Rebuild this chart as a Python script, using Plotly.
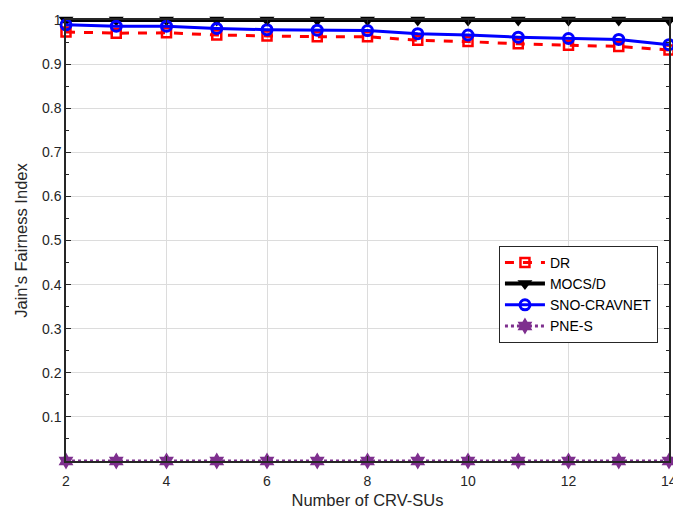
import plotly.graph_objects as go

x_vals = [2, 3, 4, 5, 6, 7, 8, 9, 10, 11, 12, 13, 14]
dr = [0.973, 0.970, 0.971, 0.966, 0.964, 0.962, 0.962, 0.954, 0.951, 0.946, 0.943, 0.940, 0.932]
mocs = [1.0] * 13
sno = [0.989, 0.986, 0.986, 0.981, 0.978, 0.977, 0.976, 0.969, 0.966, 0.961, 0.958, 0.956, 0.944]
pne = [0.0] * 13

y_ticks = [0.1, 0.2, 0.3, 0.4, 0.5, 0.6, 0.7, 0.8, 0.9, 1]
y_ticktext = ["0.1", "0.2", "0.3", "0.4", "0.5", "0.6", "0.7", "0.8", "0.9", "1"]
x_ticks = [2, 4, 6, 8, 10, 12]
x_last_tick = 14

FONT = "Liberation Sans, Arial"

fig = go.Figure()
fig.add_trace(go.Scatter(x=x_vals, y=dr, name="DR", mode="lines+markers",
                         line=dict(color="#FF0000", width=3, dash="dash"),
                         marker=dict(symbol="square-open", size=9, color="#FF0000", line=dict(width=2.5)),
                         cliponaxis=False))
fig.add_trace(go.Scatter(x=x_vals, y=mocs, name="MOCS/D", mode="lines+markers",
                         line=dict(color="#000000", width=4),
                         marker=dict(symbol="triangle-down", size=13, color="#000000"),
                         cliponaxis=False))
fig.add_trace(go.Scatter(x=x_vals, y=sno, name="SNO-CRAVNET", mode="lines+markers",
                         line=dict(color="#0000FF", width=3),
                         marker=dict(symbol="circle-open", size=10, color="#0000FF", line=dict(width=3)),
                         cliponaxis=False))
fig.add_trace(go.Scatter(x=x_vals, y=pne, name="PNE-S", mode="lines+markers",
                         line=dict(color="#7E2F8E", width=3, dash="dot"),
                         marker=dict(symbol="hexagram", size=13, color="#7E2F8E"),
                         cliponaxis=False))

axis_common = dict(showline=True, linecolor="#262626", linewidth=1.5, mirror="ticks",
                   ticks="inside", ticklen=5, tickcolor="#262626",
                   showgrid=True, gridcolor="#DCDCDC", gridwidth=1, zeroline=False,
                   tickfont=dict(family=FONT, size=14, color="#262626"))

fig.add_annotation(x=x_last_tick, y=0, xref="x", yref="paper", text=str(x_last_tick),
                   showarrow=False, xanchor="center", yanchor="top", yshift=-10,
                   font=dict(family=FONT, size=14, color="#262626"))

fig.update_layout(
    width=673, height=509,
    margin=dict(l=66, r=4, t=20, b=48),
    paper_bgcolor="white", plot_bgcolor="white",
    font=dict(family=FONT, size=14, color="#262626"),
    xaxis=dict(range=[2, 14], tickvals=x_ticks, automargin=False, ticklabelstandoff=6,
               title=dict(text="Number of CRV-SUs", font=dict(size=16.5), standoff=7),
               **axis_common),
    yaxis=dict(range=[0, 1], tickvals=y_ticks, ticktext=y_ticktext, automargin=False,
               minor=dict(ticks="inside", ticklen=3, tickcolor="#262626", dtick=0.05, showgrid=False),
               title=dict(text="Jain's Fairness Index", font=dict(size=16.5), standoff=10),
               **axis_common),
    legend=dict(x=0.718, y=0.488, xanchor="left", yanchor="top",
                bgcolor="white", bordercolor="#262626", borderwidth=1,
                font=dict(family=FONT, size=14, color="#000000"),
                tracegroupgap=0, itemwidth=40),
    showlegend=True,
)

fig.write_html("out.html")
